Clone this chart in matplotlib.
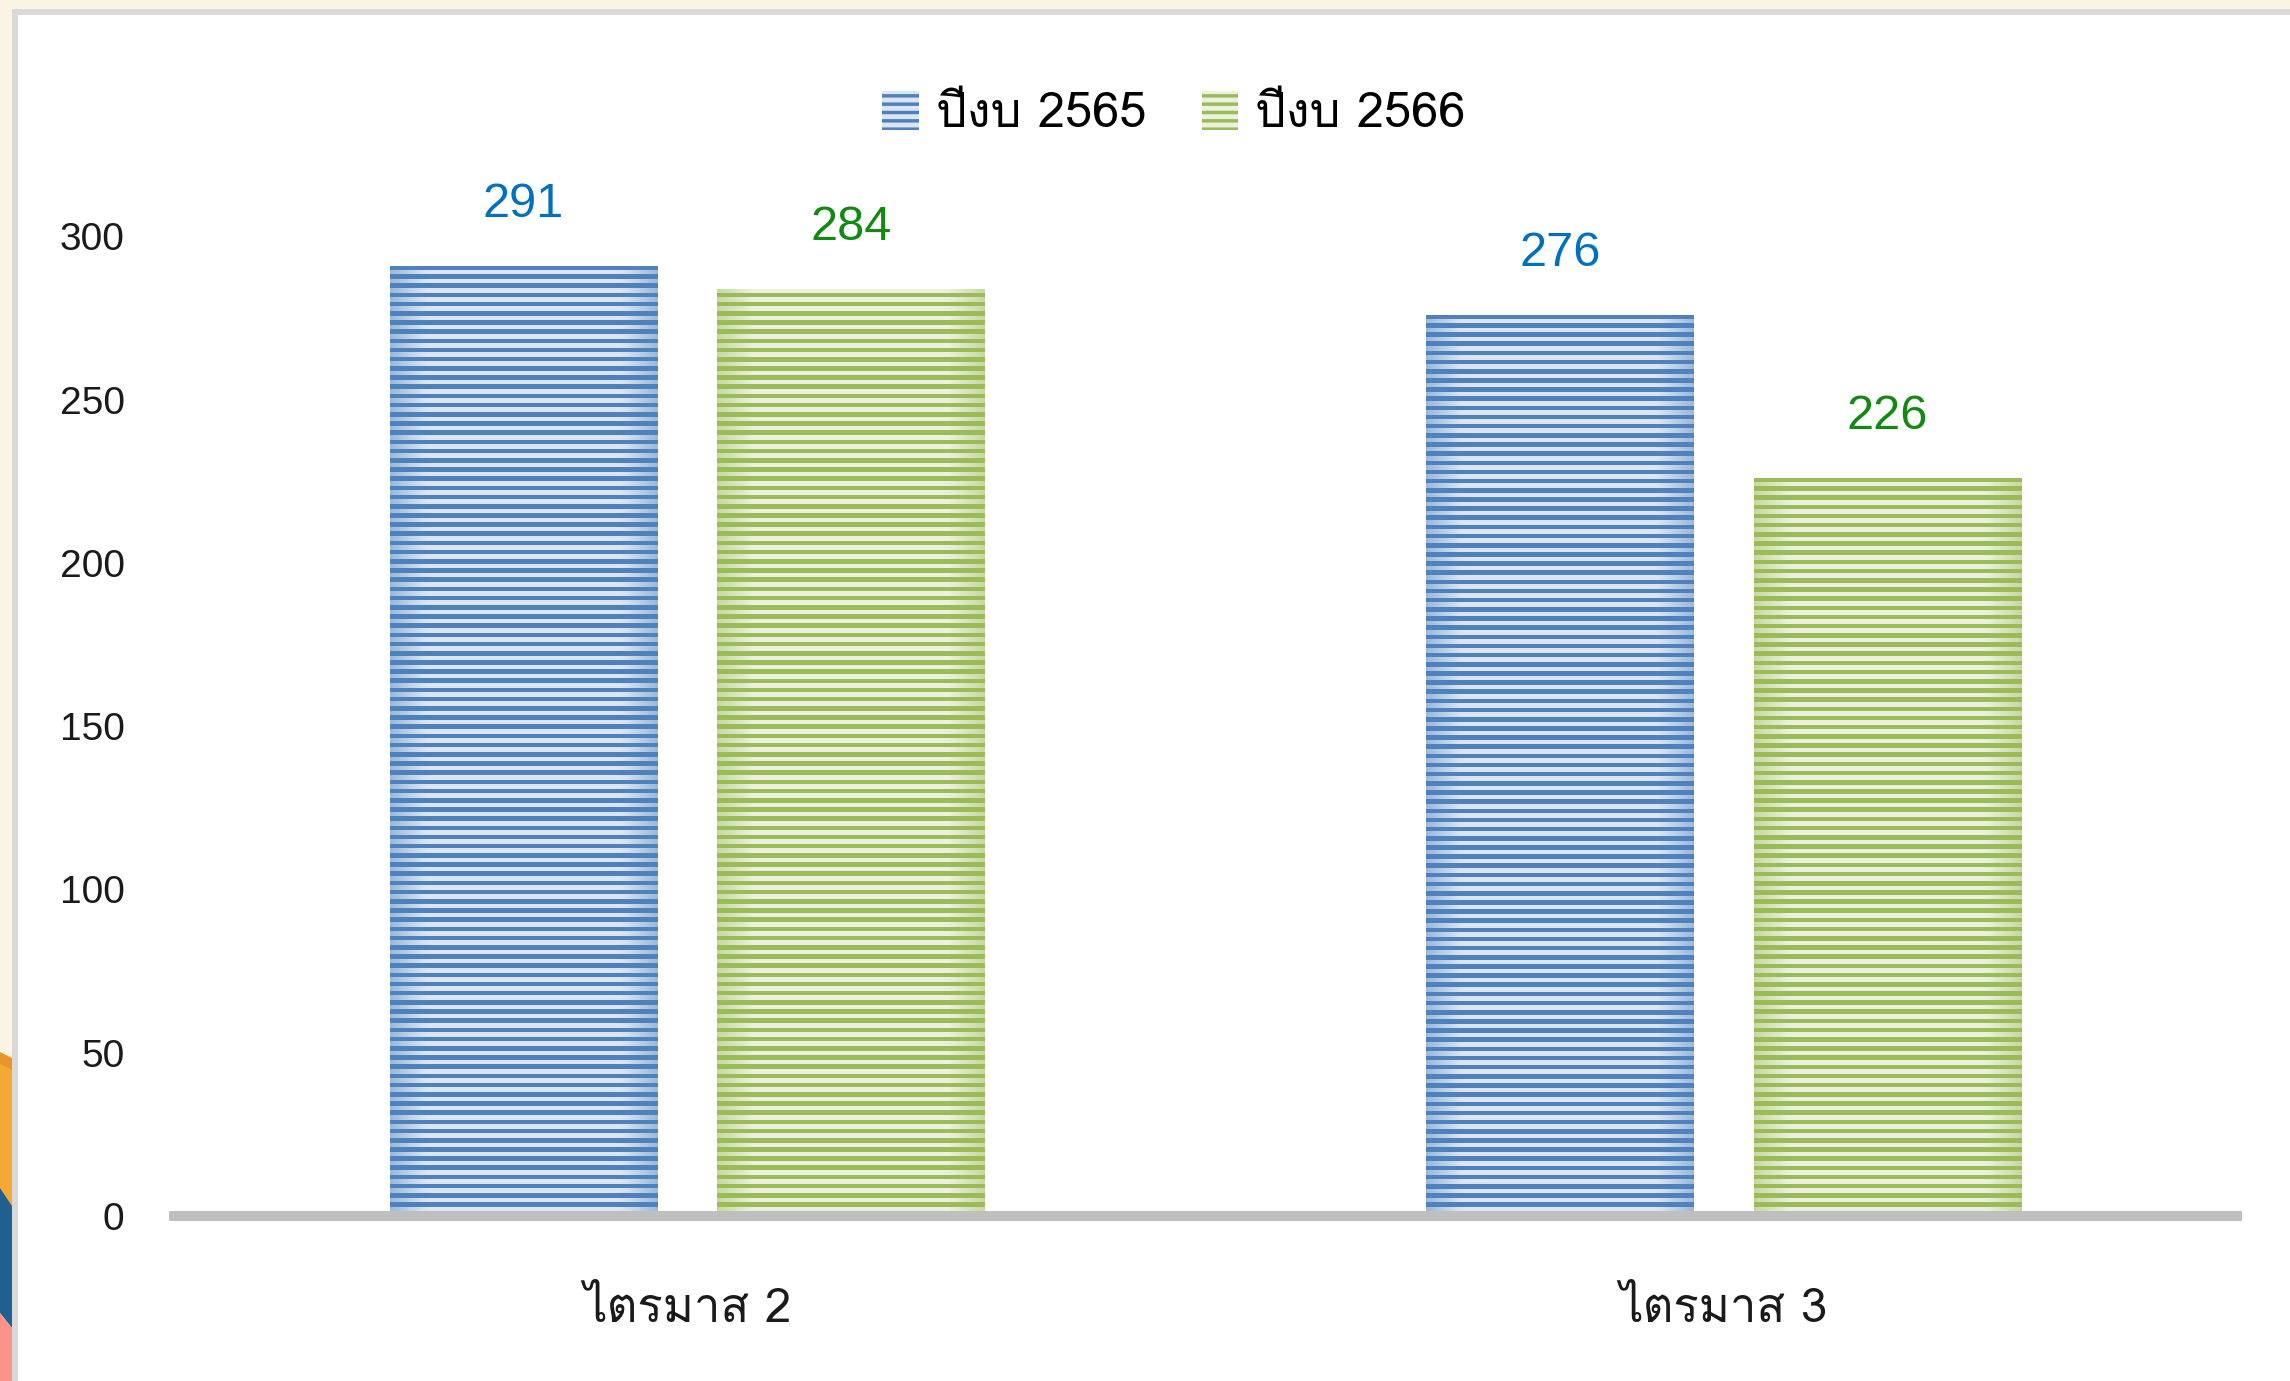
import matplotlib
matplotlib.use('Agg')
import matplotlib.pyplot as plt
from matplotlib import font_manager
from matplotlib.ft2font import FT2Font
from matplotlib.colors import to_rgb
from matplotlib.patches import Polygon, Patch
import numpy as np

quarters = ['ไตรมาส 2', 'ไตรมาส 3']
series = ['ปีงบ 2565', 'ปีงบ 2566']
fy2565 = [291, 276]
fy2566 = [284, 226]
yticks = [0, 50, 100, 150, 200, 250, 300]

W, H = 2290, 1381
BLUE_D, BLUE_L = '#4F81BD', '#DCE6F2'
GREEN_D, GREEN_L = '#9BBB59', '#EBF1DE'


def thai_family():
    for f in font_manager.fontManager.ttflist:
        try:
            if FT2Font(f.fname).get_char_index(ord('ป')):
                return f.name
        except Exception:
            pass
    return None


th = thai_family()
thai_fonts = ([th] if th else []) + ['Liberation Sans', 'DejaVu Sans']
plt.rcParams['font.family'] = ['Liberation Sans', 'DejaVu Sans']
plt.rcParams['hatch.linewidth'] = 2.5


def px(x, y):
    # pixel (from top-left) -> figure fraction
    return (x / W, 1 - y / H)


fig = plt.figure(figsize=(W / 100, H / 100), dpi=100, facecolor='#FAF4E4')

# page frame and the coloured strip at the left edge
fig.patches.append(Polygon([px(12, 9), px(W, 9), px(W, H), px(12, H)], closed=True,
                           transform=fig.transFigure, fc='#D9D9D9', ec='none', zorder=-10))
fig.patches.append(Polygon([px(18, 15), px(W, 15), px(W, H), px(18, H)], closed=True,
                           transform=fig.transFigure, fc='white', ec='none', zorder=-9))
for pts, c in [([(0, 1052), (12, 1058), (12, 1206), (0, 1188)], '#E8952A'),
               ([(0, 1064), (12, 1070), (12, 1206), (0, 1188)], '#F5A833'),
               ([(0, 1188), (12, 1206), (12, 1328), (0, 1313)], '#1F6091'),
               ([(0, 1313), (12, 1328), (12, H), (0, H)], '#F8948A')]:
    fig.patches.append(Polygon([px(*p) for p in pts], closed=True,
                               transform=fig.transFigure, fc=c, ec='none', zorder=-8))

ax = fig.add_axes([169 / W, 1 - 1216 / H, (2242 - 169) / W, (1216 - 73) / H])
ax.set_facecolor('none')

x = np.arange(len(quarters))
bw, off = 0.258, 0.158


def stripe(bar, dark, light, step=1.4):
    x0, w, h = bar.get_x(), bar.get_width(), bar.get_height()
    n = max(int(h / step), 2)
    rows = (np.arange(n) % 2 == 0)[:, None, None]
    cols = np.linspace(0, 1, 120)
    e = np.clip(1 - np.minimum(cols, 1 - cols) / 0.13, 0, 1)[None, :, None]
    d, l = np.array(to_rgb(dark)), np.array(to_rgb(light))
    lite = l * (1 - 0.45 * e) + d * 0.45 * e
    img = np.where(rows, d[None, None, :] * np.ones_like(lite), lite)
    im = ax.imshow(img, extent=(x0, x0 + w, 0, h), origin='lower', aspect='auto',
                   interpolation='nearest', zorder=2)
    im.set_clip_path(bar)


bars1 = ax.bar(x - off, fy2565, bw, color=BLUE_L, zorder=1.5)
bars2 = ax.bar(x + off, fy2566, bw, color=GREEN_L, zorder=1.5)
for b in bars1:
    stripe(b, BLUE_D, BLUE_L)
for b in bars2:
    stripe(b, GREEN_D, GREEN_L)

for bars, vals, col in [(bars1, fy2565, '#0070C0'), (bars2, fy2566, '#128A12')]:
    for b, v in zip(bars, vals):
        ax.annotate(f'{v}', (b.get_x() + b.get_width() / 2, v), xytext=(0, 35),
                    textcoords='offset points', ha='center', va='baseline',
                    fontsize=35, color=col)

ax.set_xlim(-0.5, 1.5)
ax.set_ylim(0, 350)
ax.set_yticks(yticks)
ax.set_xticks(x)
ax.set_xticklabels(quarters, family=thai_fonts, fontsize=34)
ax.tick_params(axis='y', length=0, pad=32, labelsize=28, labelcolor='#1A1A1A')
ax.tick_params(axis='x', length=0, pad=52, labelcolor='#1A1A1A')
for s in ['left', 'right', 'top']:
    ax.spines[s].set_visible(False)
ax.spines['bottom'].set_color('#BFBFBF')
ax.spines['bottom'].set_linewidth(7.2)
ax.spines['bottom'].set_capstyle('butt')
ax.spines['bottom'].set_zorder(3)

handles = [Patch(facecolor=BLUE_L, edgecolor=BLUE_D, hatch='--', linewidth=0),
           Patch(facecolor=GREEN_L, edgecolor=GREEN_D, hatch='--', linewidth=0)]
fig.legend(handles, series, loc='center', bbox_to_anchor=px(1174, 114), ncol=2,
           frameon=False, prop={'family': thai_fonts, 'size': 35},
           handlelength=0.75, handleheight=0.85, handletextpad=0.35, columnspacing=1.15)

fig.savefig('out.png', dpi=100, facecolor=fig.get_facecolor())
